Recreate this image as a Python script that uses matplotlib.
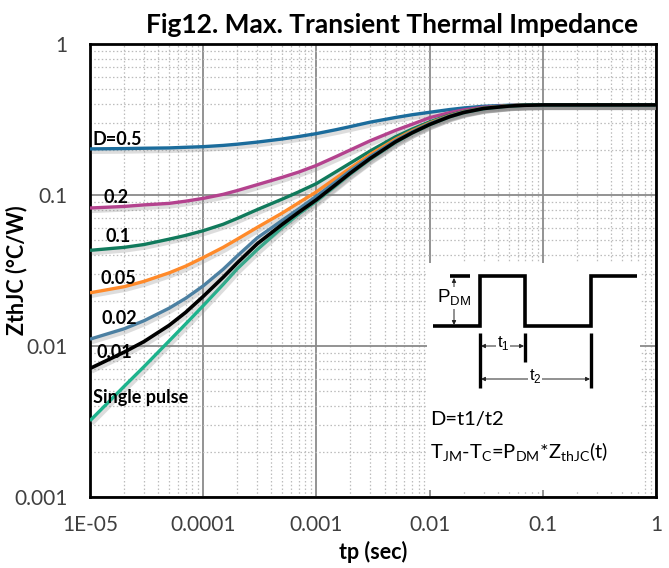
import matplotlib
matplotlib.use("Agg")
import matplotlib.pyplot as plt
import matplotlib.patheffects as pe
from matplotlib.patches import Rectangle, FancyArrowPatch
from matplotlib.lines import Line2D
from matplotlib.ticker import LogLocator, FixedLocator, NullFormatter

# ---------------- data ----------------
tp = [1e-5, 2e-5, 3e-5, 5e-5, 7e-5, 1e-4, 1.5e-4, 2e-4, 3e-4, 5e-4, 7e-4, 1e-3, 1.5e-3,
      2e-3, 3e-3, 5e-3, 7e-3, 1e-2, 1.5e-2, 2e-2, 3e-2, 5e-2, 7e-2, 1e-1, 1.0]

z_d05    = [0.202, 0.203, 0.204, 0.205, 0.207, 0.209, 0.213, 0.217, 0.224, 0.235, 0.244, 0.255, 0.271,
            0.284, 0.304, 0.326, 0.340, 0.353, 0.368, 0.377, 0.387, 0.393, 0.395, 0.395, 0.395]
z_d02    = [0.082, 0.084, 0.086, 0.088, 0.091, 0.095, 0.101, 0.107, 0.117, 0.131, 0.142, 0.157, 0.180,
            0.199, 0.229, 0.268, 0.294, 0.325, 0.351, 0.366, 0.381, 0.391, 0.394, 0.395, 0.395]
z_d01    = [0.043, 0.045, 0.047, 0.051, 0.054, 0.058, 0.064, 0.070, 0.080, 0.094, 0.105, 0.119, 0.143,
            0.163, 0.196, 0.243, 0.273, 0.305, 0.338, 0.357, 0.377, 0.390, 0.394, 0.395, 0.395]
z_d005   = [0.0225, 0.0247, 0.0268, 0.0305, 0.0338, 0.0385, 0.045, 0.051, 0.061, 0.076, 0.089, 0.105, 0.130,
            0.151, 0.186, 0.234, 0.266, 0.300, 0.335, 0.355, 0.376, 0.390, 0.394, 0.395, 0.395]
z_d002   = [0.0111, 0.0130, 0.0147, 0.0178, 0.0207, 0.0250, 0.0322, 0.0395, 0.052, 0.068, 0.081, 0.098, 0.123,
            0.145, 0.180, 0.229, 0.262, 0.297, 0.333, 0.354, 0.375, 0.389, 0.394, 0.395, 0.395]
z_d001   = [0.0071, 0.0091, 0.0107, 0.0137, 0.0167, 0.0213, 0.0285, 0.0355, 0.0475, 0.064, 0.077, 0.093, 0.118,
            0.140, 0.175, 0.225, 0.258, 0.293, 0.330, 0.352, 0.374, 0.388, 0.393, 0.395, 0.395]
z_single = [0.0032, 0.0054, 0.0073, 0.0108, 0.0140, 0.0185, 0.0256, 0.0325, 0.0435, 0.061, 0.075, 0.091, 0.116,
            0.138, 0.173, 0.223, 0.257, 0.292, 0.329, 0.351, 0.373, 0.388, 0.393, 0.395, 0.395]

series_labels = ["D=0.5", "0.2", "0.1", "0.05", "0.02", "0.01", "Single pulse"]
series_values = [z_d05, z_d02, z_d01, z_d005, z_d002, z_single, z_d001]
series_colors = ["#1b6c9c", "#b4428e", "#107a5c", "#ff8a2a", "#4c80a2", "#1db38d", "#000000"]

x_ticks = [1e-5, 1e-4, 1e-3, 1e-2, 1e-1, 1]
x_tick_labels = ["1E-05", "0.0001", "0.001", "0.01", "0.1", "1"]
y_ticks = [0.001, 0.01, 0.1, 1]
y_tick_labels = ["0.001", "0.01", "0.1", "1"]

FONT = "Lato"
plt.rcParams['font.family'] = [FONT, 'DejaVu Sans']

W, H = 669, 568
fig = plt.figure(figsize=(W / 100, H / 100), dpi=100)
L, R, T, B = 90, 656, 44, 497
ax = fig.add_axes([L / W, 1 - B / H, (R - L) / W, (B - T) / H])

ax.set_xscale("log")
ax.set_yscale("log")
ax.set_xlim(1e-5, 1)
ax.set_ylim(1e-3, 1)

# grid
ax.xaxis.set_minor_locator(LogLocator(base=10, subs=range(2, 10)))
ax.yaxis.set_minor_locator(LogLocator(base=10, subs=range(2, 10)))
ax.xaxis.set_minor_formatter(NullFormatter())
ax.yaxis.set_minor_formatter(NullFormatter())
ax.grid(which="major", color="#8a8a8a", linewidth=1.3, linestyle="-")
ax.grid(which="minor", color="#bcbcbc", linewidth=0.9, linestyle=(0, (1.2, 1.8)))

ax.xaxis.set_major_locator(FixedLocator(x_ticks))
ax.yaxis.set_major_locator(FixedLocator(y_ticks))
ax.set_xticklabels(x_tick_labels)
ax.set_yticklabels(y_tick_labels)
ax.tick_params(which="both", length=0)
ax.tick_params(axis="x", pad=13, labelsize=15, labelcolor="#404040")
ax.tick_params(axis="y", pad=16, labelsize=15, labelcolor="#404040")
for s in ax.spines.values():
    s.set_linewidth(2.0)
    s.set_color("black")

# curves (with soft shadow)
shadow = [pe.SimpleLineShadow(offset=(1.2, -1.8), shadow_color="#888888", alpha=0.28, linewidth=3.8),
          pe.Normal()]
for vals, col in zip(series_values, series_colors):
    lw = 2.6 if col == "#000000" else 2.4
    z = 6 if col == "#000000" else 4
    ax.plot(tp, vals, color=col, linewidth=lw, zorder=z, path_effects=shadow,
            solid_joinstyle="round", solid_capstyle="butt")

# curve labels (axes fraction positions)
label_pos = [(0.005, 0.790), (0.023, 0.662), (0.027, 0.576), (0.018, 0.483),
             (0.021, 0.393), (0.012, 0.318), (0.005, 0.219)]
for lab, (px, py) in zip(series_labels, label_pos):
    ax.text(px, py, lab, transform=ax.transAxes, fontsize=13, fontweight="bold",
            ha="left", va="center", color="black", zorder=8)

ax.set_title("Fig12. Max. Transient Thermal Impedance", fontsize=19, fontweight="bold",
             pad=8, x=0.534)
ax.set_xlabel("tp (sec)", fontsize=15.5, fontweight="bold", labelpad=4)
ax.set_ylabel("ZthJC (°C/W)", fontsize=15.5, fontweight="bold")
ax.yaxis.set_label_coords(-0.11, 0.5)

# ---------------- inset diagram (figure pixel coords) ----------------
def fxy(X, Y):
    return X / W, 1 - Y / H

x0, y0 = fxy(427, 490)
x1, y1 = fxy(640, 263)
rect = Rectangle((x0, y0), x1 - x0, y1 - y0, transform=fig.transFigure,
                 facecolor="white", edgecolor="none", zorder=3)
fig.add_artist(rect)

def fline(pts, lw=2.6, color="black"):
    xs = [p[0] / W for p in pts]
    ys = [1 - p[1] / H for p in pts]
    fig.add_artist(Line2D(xs, ys, transform=fig.transFigure, color=color, lw=lw,
                          zorder=5, solid_joinstyle="miter", solid_capstyle="butt"))

# waveform
fline([(433, 326), (480, 326), (480, 276), (525, 276), (525, 326),
       (591, 326), (591, 276), (637, 276)])
fline([(450, 276), (470, 276)])
# t markers
fline([(480, 333), (480, 388)], lw=2.4)
fline([(525, 333), (525, 362)], lw=2.4)
fline([(591, 333), (591, 388)], lw=2.4)

def farrow(p, q):
    a = FancyArrowPatch(fxy(*p), fxy(*q), transform=fig.transFigure, arrowstyle="<|-|>",
                        mutation_scale=6, lw=0.7, color="#222222", zorder=5,
                        shrinkA=0, shrinkB=0)
    fig.add_artist(a)

farrow((454, 278), (454, 325))
farrow((481, 346), (524, 346))
farrow((481, 379), (590, 379))

fig.text(437 / W, 1 - 298 / H, r"P$_{\mathregular{DM}}$", fontsize=13.5, family="Liberation Sans",
         ha="left", va="center", zorder=6,
         bbox=dict(facecolor="white", edgecolor="none", pad=0.5))
fig.text(503 / W, 1 - 343 / H, r"t$_{\mathregular{1}}$", fontsize=12, family="Liberation Sans",
         ha="center", va="center", zorder=6,
         bbox=dict(facecolor="white", edgecolor="none", pad=0.5))
fig.text(535 / W, 1 - 376 / H, r"t$_{\mathregular{2}}$", fontsize=12, family="Liberation Sans",
         ha="center", va="center", zorder=6,
         bbox=dict(facecolor="white", edgecolor="none", pad=0.5))
fig.text(430 / W, 1 - 420 / H, "D=t1/t2", fontsize=14.5, ha="left", va="center", zorder=6)
fig.text(430 / W, 1 - 452 / H,
         r"T$_{\mathregular{JM}}$-T$_{\mathregular{C}}$=P$_{\mathregular{DM}}$*Z$_{\mathregular{thJC}}$(t)",
         fontsize=14.5, ha="left", va="center", zorder=6)

fig.savefig("out.png", dpi=100)
